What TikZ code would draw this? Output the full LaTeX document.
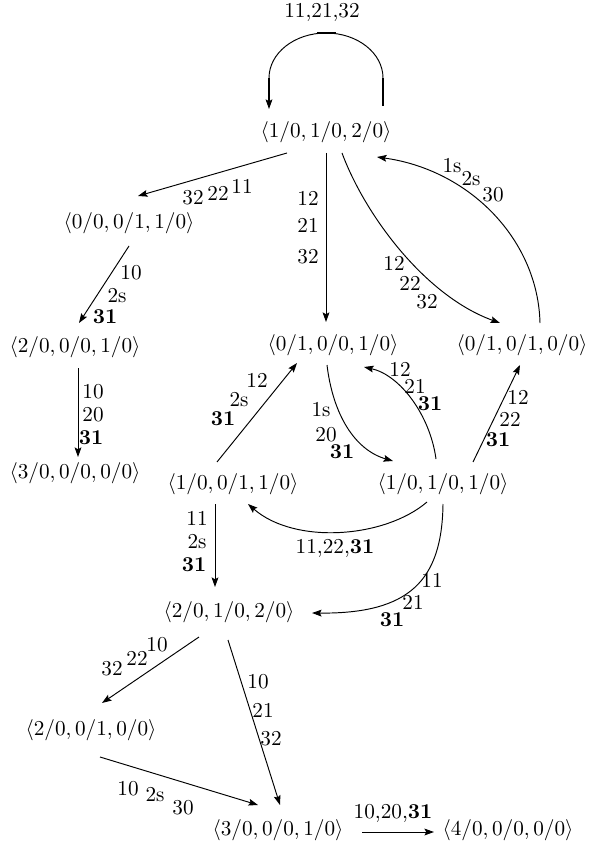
\documentclass[tikz,border=0pt]{standalone}
\usetikzlibrary{arrows.meta,calc}
\begin{document}
\begin{tikzpicture}[x=0.4717pt,y=-0.4717pt,
  st/.style={inner sep=0pt},
  lab/.style={inner sep=0pt},
  ln/.style={line width=0.45pt},
  arr/.style={ln,-{Stealth[length=4.5pt,width=3.2pt,inset=0.8pt]}}]
\useasboundingbox (0,0) rectangle (593,850);
% states
\node[st] (A) at (326,132) {$\langle 1/0,1/0,2/0\rangle$};
\node[st] (B) at (129,223) {$\langle 0/0,0/1,1/0\rangle$};
\node[st] (C) at (75,347) {$\langle 2/0,0/0,1/0\rangle$};
\node[st] (D) at (75,473) {$\langle 3/0,0/0,0/0\rangle$};
\node[st] (E) at (333,345) {$\langle 0/1,0/0,1/0\rangle$};
\node[st] (F) at (522,345) {$\langle 0/1,0/1,0/0\rangle$};
\node[st] (G) at (233,484) {$\langle 1/0,0/1,1/0\rangle$};
\node[st] (H) at (443,484) {$\langle 1/0,1/0,1/0\rangle$};
\node[st] (I) at (229,612) {$\langle 2/0,1/0,2/0\rangle$};
\node[st] (J) at (91,730) {$\langle 2/0,0/1,0/0\rangle$};
\node[st] (K) at (278,830) {$\langle 3/0,0/0,1/0\rangle$};
\node[st] (L) at (508,830) {$\langle 4/0,0/0,0/0\rangle$};
% self loop on A
\draw[arr] ($(A)+(57,-26)$) -- ($(A)+(57,-54)$)
  .. controls ($(A)+(57,-78.9)$) and ($(A)+(31.5,-99)$) .. ($(A)+(0,-99)$)
  .. controls ($(A)+(-31.5,-99)$) and ($(A)+(-57,-78.9)$) .. ($(A)+(-57,-54)$)
  -- ($(A)+(-57,-23)$);
\draw[line width=1pt] ($(A)+(57,-26)$) -- ($(A)+(57,-54)$);
\draw[line width=1pt] ($(A)+(-57,-54)$) -- ($(A)+(-57,-31)$);
\draw[line width=1pt] ($(A)+(-9,-99)$) -- ($(A)+(10,-99)$);
\node[lab] (l0) at (322,12) {11,21,32};
% A -> B
\draw[arr] ($(A)+(-39,21)$) -- ($(B)+(9,-27)$);
\node[lab] (l1) at (193,198) {32};
\node[lab] (l2) at (218,193) {22};
\node[lab] (l3) at (242,186) {11};
% A -> E
\draw[arr] ($(A)+(0,21)$) -- ($(E)+(-7,-23)$);
\node[lab] (l4) at (308,198) {12};
\node[lab] (l5) at (308,225) {21};
\node[lab] (l6) at (308,257) {32};
% A -> F
\draw[arr] ($(A)+(16,21)$) .. controls ($(A)+(39,83)$) and ($(F)+(-97,-49)$) .. ($(F)+(-22,-22)$);
\node[lab] (l7) at (394,263) {12};
\node[lab] (l8) at (410,283) {22};
\node[lab] (l9) at (427,302) {32};
% F -> A
\draw[arr] ($(F)+(18,-22)$) .. controls ($(F)+(16,-105)$) and ($(A)+(144,38)$) .. ($(A)+(51,25)$);
\node[lab] (l10) at (452,166) {1s};
\node[lab] (l11) at (471,179) {2s};
\node[lab] (l12) at (493,195) {30};
% B -> C
\draw[arr] ($(B)+(0,23)$) -- ($(C)+(4,-24)$);
\node[lab] (l13) at (131,273) {10};
\node[lab] (l14) at (117,296) {2s};
\node[lab] (l15) at (105,317) {\textbf{31}};
% C -> D
\draw[arr] ($(C)+(3,21)$) -- ($(D)+(3,-16)$);
\node[lab] (l16) at (93,392) {10};
\node[lab] (l17) at (93,415) {20};
\node[lab] (l18) at (91,438) {\textbf{31}};
% G -> E
\draw[arr] ($(G)+(-16,-22)$) -- ($(E)+(-36,18)$);
\node[lab] (l19) at (257,380) {12};
\node[lab] (l20) at (239,400) {2s};
\node[lab] (l21) at (223,419) {\textbf{31}};
% E -> H
\draw[arr] ($(E)+(-6,20)$) .. controls ($(E)+(0,70)$) and ($(H)+(-88,-34)$) .. ($(H)+(-50,-23)$);
\node[lab] (l22) at (321,410) {1s};
\node[lab] (l23) at (326,435) {20};
\node[lab] (l24) at (342,452) {\textbf{31}};
% H -> E
\draw[arr] ($(H)+(-7,-25)$) .. controls ($(H)+(-13,-69)$) and ($(E)+(67,30)$) .. ($(E)+(31,22)$);
\node[lab] (l25) at (400,369) {12};
\node[lab] (l26) at (415,386) {21};
\node[lab] (l27) at (430,404) {\textbf{31}};
% H -> F
\draw[arr] ($(H)+(30,-22)$) -- ($(F)+(-2,20)$);
\node[lab] (l28) at (518,397) {12};
\node[lab] (l29) at (510,419) {22};
\node[lab] (l30) at (498,440) {\textbf{31}};
% H -> G
\draw[arr] ($(H)+(-16,18)$) .. controls ($(H)+(-58,54)$) and ($(G)+(62,61)$) .. ($(G)+(15,20)$);
\node[lab] (l31) at (335,548) {11,22,\textbf{31}};
% H -> I
\draw[arr] ($(H)+(0,20)$) .. controls ($(H)+(-1,96)$) and ($(I)+(181,2)$) .. ($(I)+(83,1)$);
\node[lab] (l32) at (432,580) {11};
\node[lab] (l33) at (413,602) {21};
\node[lab] (l34) at (392,620) {\textbf{31}};
% G -> I
\draw[arr] ($(G)+(-18,20)$) -- ($(I)+(-14,-25)$);
\node[lab] (l35) at (197,518) {11};
\node[lab] (l36) at (197,542) {2s};
\node[lab] (l37) at (194,565) {\textbf{31}};
% I -> J
\draw[arr] ($(I)+(-30,25)$) -- ($(J)+(11,-27)$);
\node[lab] (l38) at (157,645) {10};
\node[lab] (l39) at (137,658) {22};
\node[lab] (l40) at (112,669) {32};
% I -> K
\draw[arr] ($(I)+(-1,28)$) -- ($(K)+(2,-25)$);
\node[lab] (l41) at (258,682) {10};
\node[lab] (l42) at (263,710) {21};
\node[lab] (l43) at (271,739) {32};
% J -> K
\draw[arr] ($(J)+(9,27)$) -- ($(K)+(-20,-25)$);
\node[lab] (l44) at (128,789) {10};
\node[lab] (l45) at (155,795) {2s};
\node[lab] (l46) at (183,808) {30};
% K -> L
\draw[arr] ($(K)+(84,2)$) -- ($(L)+(-74,2)$);
\node[lab] (l47) at (393,813) {10,20,\textbf{31}};
\end{tikzpicture}
\end{document}
